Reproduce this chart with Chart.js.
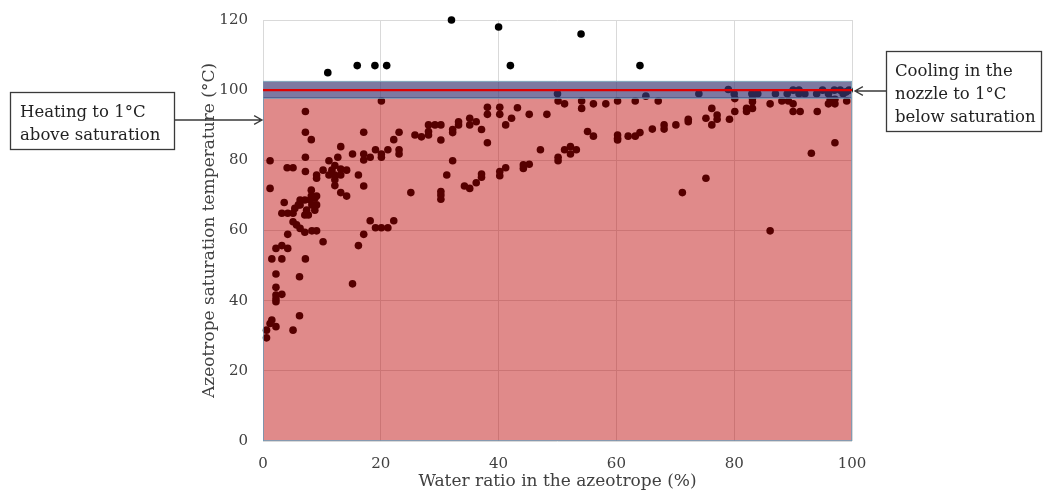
<!DOCTYPE html>
<html>
<head>
<meta charset="utf-8">
<script src="https://cdn.jsdelivr.net/npm/chart.js@4.4.0/dist/chart.umd.min.js"></script>
<style>
  html, body { margin: 0; padding: 0; background: #fff; }
  #wrap { width: 1044px; height: 491px; }
</style>
</head>
<body>
<div id="wrap"><canvas id="azeoChart" width="1044" height="491"></canvas></div>
<script>
// water content of the azeotrope (%) and its saturation temperature (°C), same order
const waterPct = [
  // above the nozzle band
  11, 16, 19, 21, 32, 40, 42, 54, 64,
  // inside the band
  50, 65, 74, 79, 80, 83, 84, 87, 89, 90, 91, 91, 92, 94, 95, 96, 97, 98, 98.5, 99, 99.5,
  // 0-10 %
  0.6, 0.6, 1.2, 1.5, 2.2, 5.1, 6.2, 2.2, 2.2, 2.2, 3.2, 2.2, 2.2, 6.2, 1.5, 3.2, 7.2, 2.2, 3.2, 4.2, 4.2,
  3.2, 4.2, 5.1, 5.4, 6.0, 3.6, 5.1, 5.7, 6.3, 7.1, 8.3, 9.1, 10.2,
  6.3, 6.3, 7.1, 8.0, 8.8, 8.3, 9.1, 8.8, 7.4, 7.7, 7.1, 8.2, 8.2, 9.1,
  1.2, 1.2, 4.1, 5.1, 7.2, 7.2, 9.1, 9.1, 7.2, 7.2, 8.2,
  // 10-25 %
  11.2, 12.2, 11.7, 10.2, 11.2, 12.2, 13.2, 12.2, 12.2, 14.2, 13.2, 13.2, 14.2,
  12.7, 13.2, 15.2, 16.2, 17.1, 17.1, 17.1, 17.1, 18.2, 19.1, 20.1, 20.1,
  15.2, 16.2, 17.1, 18.2, 19.1, 20.1, 21.2, 22.2,
  20.1, 21.2, 23.1, 23.1, 22.2, 23.1, 25.1,
  // 25-40 %
  25.8, 26.9, 28.1, 28.1, 28.1, 29.2, 30.2, 30.2, 32.2, 32.2, 33.2, 33.2, 35.1, 35.1, 36.2, 37.1, 38.1, 38.1, 40.2, 40.2, 38.1,
  30.2, 30.2, 30.2, 32.2, 31.2, 34.2, 35.1, 36.2, 37.1, 37.1,
  // 40-60 %
  41.2, 42.2, 43.2, 45.2, 48.2, 50.1, 51.2, 54.1, 54.1, 56.1, 58.2, 55.1, 56.1,
  40.2, 40.2, 41.2, 44.2, 44.2, 45.2, 47.1, 50.1, 50.1, 51.2, 52.2, 52.2, 53.2,
  // 60-100 %
  60.2, 63.2, 67.1, 60.2, 60.2, 60.2, 62.0, 63.2, 64.0, 66.1, 68.1, 68.1, 70.1, 72.2, 72.2, 75.2, 76.2, 76.2,
  77.1, 77.1, 79.2, 80.1, 82.1, 82.1, 83.1, 80.1, 83.1, 83.1, 86.1, 88.1, 89.2, 90.0, 90.0, 91.2, 94.1,
  96.0, 97.1, 97.1, 96.3, 99.1, 93.1, 97.1, 75.2, 71.2, 86.1
];
const satTemp = [
  105, 107, 107, 107, 120, 118, 107, 116, 107,
  99, 98.3, 99, 100.2, 99, 99, 99, 99, 99, 100, 100, 99, 99, 99, 100, 99, 100, 100, 99, 99.5, 100,
  31.6, 29.4, 33.5, 34.5, 32.6, 31.6, 35.7, 39.7, 40.5, 41.6, 41.8, 43.8, 47.6, 46.8, 51.9, 51.9, 51.9, 54.9, 55.7, 54.9, 58.9,
  64.9, 64.9, 64.9, 66.3, 67.3, 68.0, 62.5, 61.6, 60.6, 59.5, 59.9, 59.9, 56.8,
  68.7, 67.3, 68.7, 68.7, 69.2, 67.3, 67.3, 65.8, 65.8, 64.4, 64.4, 71.5, 69.8, 69.8,
  72.0, 79.9, 77.9, 77.9, 80.9, 76.8, 75.8, 74.9, 93.9, 88.0, 85.9,
  79.9, 78.5, 77.2, 77.2, 75.8, 75.8, 75.8, 74.5, 72.8, 77.2, 77.5, 70.8, 69.8,
  80.9, 83.9, 81.8, 75.8, 72.7, 88.0, 81.8, 80.1, 80.9, 83.0, 81.8, 80.9,
  44.8, 55.7, 58.9, 62.8, 60.8, 60.8, 60.8, 62.8,
  96.9, 83.0, 83.0, 81.8, 85.9, 88.0, 70.8,
  87.2, 86.7, 87.2, 88.2, 90.1, 90.1, 90.1, 85.8, 88.8, 87.9, 91.0, 90.1, 92.0, 90.1, 91.0, 88.8, 95.1, 93.1, 95.1, 93.1, 85.0,
  71.1, 70.1, 68.9, 79.9, 75.8, 72.7, 72.0, 73.6, 75.2, 76.1,
  90.1, 92.0, 95.0, 93.1, 93.1, 96.9, 96.1, 96.9, 94.8, 96.1, 96.1, 88.2, 86.9,
  76.8, 75.6, 77.9, 78.7, 77.7, 78.9, 83.0, 80.9, 79.9, 83.0, 83.9, 81.8, 83.0,
  96.9, 96.9, 96.9, 87.2, 86.3, 85.8, 86.9, 86.9, 87.9, 88.9, 90.1, 88.9, 90.1, 91.7, 91.0, 92.0, 90.1, 94.8,
  92.9, 91.7, 91.7, 93.9, 93.9, 94.8, 94.8, 97.6, 96.7, 97.7, 96.1, 96.9, 96.9, 96.1, 93.9, 93.9, 93.9,
  96.1, 96.1, 97.4, 97.4, 96.9, 82.0, 85.0, 74.9, 70.8, 59.9
];

const xTicks = [0, 20, 40, 60, 80, 100];
const yTicks = [0, 20, 40, 60, 80, 100, 120];

// operating window: heated feed sits 1°C above saturation, nozzle cools 1°C below
const heatedBelow = 97.8;    // top of the red (liquid) zone
const bandTop = 102.5;       // top of the blue nozzle band
const saturationLine = 100;

const FONT = 'DejaVu Serif';
const EDGE = '#6a9fbd';

const points = waterPct.map((w, i) => ({ x: w, y: satTemp[i] }));

// callout boxes with arrows pointing at the plot edges
const callouts = {
  id: 'callouts',
  afterDraw(chart) {
    const { ctx, scales: { x } } = chart;
    ctx.save();
    ctx.strokeStyle = '#3a3a3a';
    ctx.lineWidth = 1.3;
    ctx.font = '16.5px "' + FONT + '"';
    ctx.textBaseline = 'alphabetic';

    // left box
    ctx.fillStyle = '#fff';
    ctx.fillRect(10, 92, 164, 57);
    ctx.strokeRect(10.5, 92.5, 164, 57);
    ctx.fillStyle = '#222';
    ctx.fillText('Heating to 1°C', 20, 117);
    ctx.fillText('above saturation', 20, 140);
    arrow(ctx, 175, 120, x.getPixelForValue(0) - 1, 120);

    // right box
    ctx.fillStyle = '#fff';
    ctx.fillRect(886, 51, 156, 81);
    ctx.strokeRect(886.5, 51.5, 155, 80);
    ctx.fillStyle = '#222';
    ctx.fillText('Cooling in the', 895, 76);
    ctx.fillText('nozzle to 1°C', 895, 99);
    ctx.fillText('below saturation', 895, 122);
    arrow(ctx, 886, 91, x.getPixelForValue(100) + 3, 91);
    ctx.restore();
  }
};

function arrow(ctx, x0, y0, x1, y1) {
  const a = Math.atan2(y1 - y0, x1 - x0);
  const h = 9;
  ctx.beginPath();
  ctx.moveTo(x0, y0);
  ctx.lineTo(x1, y1);
  ctx.moveTo(x1 - h * Math.cos(a - 0.5), y1 - h * Math.sin(a - 0.5));
  ctx.lineTo(x1, y1);
  ctx.lineTo(x1 - h * Math.cos(a + 0.5), y1 - h * Math.sin(a + 0.5));
  ctx.stroke();
}

new Chart(document.getElementById('azeoChart'), {
  type: 'scatter',
  data: {
    datasets: [
      {
        label: 'Azeotropes',
        data: points,
        backgroundColor: '#000',
        borderWidth: 0,
        pointRadius: 3.8,
        clip: 6,
        order: 5
      },
      {
        // liquid zone, semi transparent so the points show through
        type: 'line',
        data: [{ x: 0, y: 0 }, { x: 0, y: heatedBelow }, { x: 100, y: heatedBelow }, { x: 100, y: 0 }],
        borderColor: EDGE,
        borderWidth: 1.5,
        backgroundColor: 'rgba(188, 0, 0, 0.46)',
        fill: 'origin',
        pointRadius: 0,
        tension: 0,
        order: 4
      },
      {
        // bottom edge of the liquid zone
        type: 'line',
        data: [{ x: 0, y: 0 }, { x: 100, y: 0 }],
        borderColor: EDGE,
        borderWidth: 1.5,
        pointRadius: 0,
        fill: false,
        order: 3
      },
      {
        // nozzle band around saturation
        type: 'line',
        data: [{ x: 0, y: heatedBelow }, { x: 0, y: bandTop }, { x: 100, y: bandTop }, { x: 100, y: heatedBelow }],
        borderColor: '#7fa6bb',
        borderWidth: 1,
        backgroundColor: 'rgba(64, 58, 116, 0.68)',
        fill: { value: heatedBelow },
        pointRadius: 0,
        tension: 0,
        order: 2
      },
      {
        type: 'line',
        data: [{ x: 0, y: saturationLine }, { x: 100, y: saturationLine }],
        borderColor: '#e00000',
        borderWidth: 2.2,
        pointRadius: 0,
        fill: false,
        order: 1
      }
    ]
  },
  options: {
    responsive: false,
    animation: false,
    devicePixelRatio: 1,
    layout: { padding: { left: 201, right: 192, top: 20, bottom: 1 } },
    plugins: { legend: { display: false }, tooltip: { enabled: false } },
    scales: {
      x: {
        type: 'linear',
        min: 0,
        max: 100,
        afterBuildTicks: s => { s.ticks = xTicks.map(v => ({ value: v })); },
        afterFit: s => { s.height = 49; },
        grid: { color: '#d9d9d9', drawTicks: false },
        border: { display: false },
        ticks: { padding: 14, color: '#404040', font: { family: FONT, size: 15 } },
        title: {
          display: true,
          text: 'Water ratio in the azeotrope (%)',
          color: '#404040',
          font: { family: FONT, size: 17, lineHeight: 1 },
          padding: { top: 0, bottom: 0 }
        }
      },
      y: {
        type: 'linear',
        min: 0,
        max: 120,
        afterBuildTicks: s => { s.ticks = yTicks.map(v => ({ value: v })); },
        afterFit: s => { s.width = 62; s.paddingTop = 0; s.paddingBottom = 0; },
        grid: { color: '#d9d9d9', drawTicks: false },
        border: { display: false },
        ticks: { padding: 15, color: '#404040', font: { family: FONT, size: 15 } },
        title: {
          display: true,
          text: 'Azeotrope saturation temperature (°C)',
          color: '#404040',
          font: { family: FONT, size: 17, lineHeight: 1 },
          padding: { top: 0, bottom: 2 }
        }
      }
    }
  },
  plugins: [callouts]
});
</script>
</body>
</html>
